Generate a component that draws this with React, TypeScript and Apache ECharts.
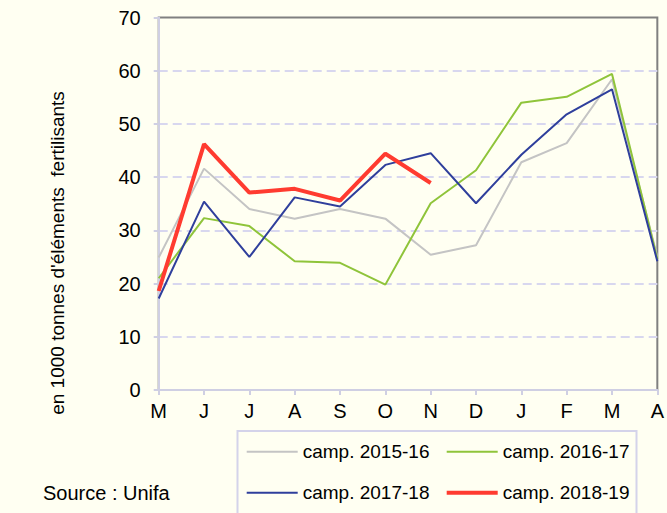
import React, { useEffect, useRef } from "react";
import * as echarts from "echarts";

const months = ["M", "J", "J", "A", "S", "O", "N", "D", "J", "F", "M", "A"];
const s1516 = [24.9, 41.6, 34.0, 32.2, 34.0, 32.2, 25.4, 27.2, 42.8, 46.4, 58.4, 25.0];
const s1617 = [21.0, 32.3, 30.8, 24.2, 23.9, 19.8, 35.1, 41.3, 54.0, 55.1, 59.4, 24.6];
const s1718 = [17.2, 35.4, 25.0, 36.2, 34.5, 42.3, 44.5, 35.1, 44.2, 51.8, 56.5, 24.2];
const s1819 = [18.6, 46.2, 37.1, 37.8, 35.6, 44.4, 38.9];
const seriesNames = ["camp. 2015-16", "camp. 2016-17", "camp. 2017-18", "camp. 2018-19"];
const yTitle = "en 1000 tonnes d'éléments  fertilisants";
const sourceText = "Source : Unifa";

const FONT = "Liberation Sans, Arial, sans-serif";
const colors = ["#c4c4c4", "#8fc43a", "#2f3f9c", "#ff3b30"];
const widths = [2, 2, 2, 4];

export default function App() {
  const ref = useRef<HTMLDivElement>(null);
  useEffect(() => {
    if (!ref.current) return;
    const chart = echarts.init(ref.current, null, { renderer: "svg" });
    const datasets = [s1516, s1617, s1718, s1819];
    const legendPos = [
      { left: 246.7, center: 451.7 },
      { left: 446.7, center: 451.7 },
      { left: 246.7, center: 492.7 },
      { left: 446.7, center: 492.7 },
    ];
    chart.setOption({
      animation: false,
      backgroundColor: "#fffff2",
      textStyle: { fontFamily: FONT },
      grid: {
        left: 158.7,
        right: 3.7,
        top: 17.5,
        bottom: 123,
        containLabel: false,
        show: true,
        backgroundColor: "transparent",
        borderColor: "#808080",
        borderWidth: 2,
      },
      xAxis: {
        type: "category",
        data: months,
        boundaryGap: false,
        axisLine: { show: true, lineStyle: { color: "#cfcfe3", width: 2 } },
        axisTick: { show: true, length: 5, lineStyle: { color: "#cfcfe3", width: 2 } },
        axisLabel: { color: "#000", fontSize: 20, margin: 11, fontFamily: FONT, interval: 0 },
        splitLine: { show: false },
      },
      yAxis: {
        type: "value",
        min: 0,
        max: 70,
        interval: 10,
        axisLine: { show: true, lineStyle: { color: "#cfcfe3", width: 2 } },
        axisTick: { show: true, length: 5, lineStyle: { color: "#cfcfe3", width: 2 } },
        axisLabel: { color: "#000", fontSize: 20, margin: 18, fontFamily: FONT },
        splitLine: {
          show: true,
          showMinLine: false,
          showMaxLine: false,
          lineStyle: { color: "#d8d7ef", width: 2, type: [9, 5] },
        },
      },
      legend: seriesNames.map((n, i) => ({
        data: [n],
        left: legendPos[i].left,
        top: legendPos[i].center - 11,
        padding: 0,
        icon: "rect",
        itemWidth: 51,
        itemHeight: widths[i],
        itemGap: 5,
        selectedMode: false,
        textStyle: { color: "#000", fontSize: 19, fontFamily: FONT, lineHeight: 22 },
      })),
      graphic: [
        {
          type: "rect",
          shape: { x: 237.5, y: 431, width: 399, height: 100 },
          style: { fill: "transparent", stroke: "#d4d3ea", lineWidth: 2 },
          z: 0,
        },
        {
          type: "text",
          x: 43,
          y: 493,
          style: {
            text: sourceText,
            font: `20px ${FONT}`,
            fill: "#000",
            textVerticalAlign: "middle",
          },
        },
        {
          type: "text",
          x: 57,
          y: 253,
          rotation: Math.PI / 2,
          style: {
            text: yTitle,
            font: `19px ${FONT}`,
            fill: "#000",
            textAlign: "center",
            textVerticalAlign: "middle",
          },
        },
      ],
      series: datasets.map((d, i) => ({
        name: seriesNames[i],
        type: "line",
        data: d,
        showSymbol: false,
        symbol: "none",
        z: 2 + i,
        lineStyle: { color: colors[i], width: widths[i] },
        itemStyle: { color: colors[i] },
      })),
    });
    return () => chart.dispose();
  }, []);
  return <div ref={ref} style={{ width: 667, height: 513, position: "absolute", left: 0, top: 0 }} />;
}
